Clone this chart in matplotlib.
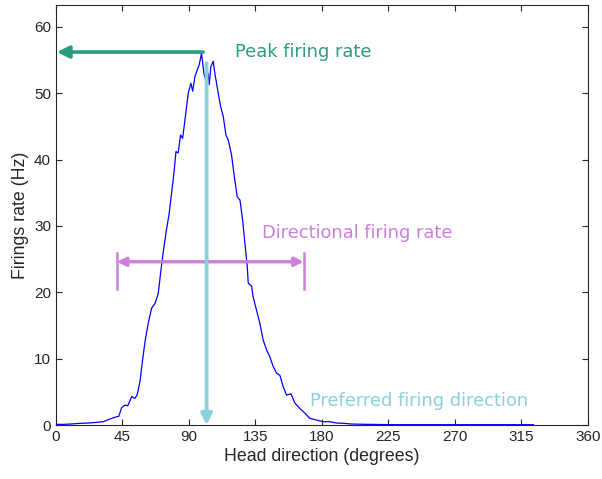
import matplotlib
matplotlib.use("Agg")
import matplotlib.pyplot as plt

# head direction tuning curve
direction = [0, 5, 10, 16, 22, 27.5, 32, 36.5, 39, 41, 42.5, 44.4, 46.7, 48.5, 50, 51.2,
             53.4, 55, 56.8, 58.6, 60.2, 62.4, 64.7, 67, 69.2, 70.8, 72.4, 74.4, 76.6,
             78.2, 79.8, 81.2, 82.7, 84.3, 85.7, 87.3, 89.5, 91.3, 92.5, 94, 95.6, 96.9,
             98.5, 100.1, 101.9, 103, 103.7, 104.8, 106.4, 107.5, 109.8, 111.4, 113.2,
             115, 116.5, 118.8, 120.4, 122.6, 124.5, 126.3, 127.8, 129.4, 130.1, 132.4,
             133.4, 135.7, 138, 140.2, 142.5, 144.7, 147, 149.3, 151.5, 153.7, 156, 159,
             161.7, 165, 168.4, 171.8, 176.3, 180.8, 185.3, 190, 195, 200, 210, 230,
             260, 290, 323]
rate = [0.1, 0.1, 0.15, 0.25, 0.3, 0.4, 0.5, 0.9, 1.1, 1.25, 1.3, 2.6, 3.0, 2.9, 3.6, 4.3,
        4.0, 4.6, 6.5, 9.8, 12.5, 15.3, 17.6, 18.3, 19.8, 22.9, 25.8, 28.9, 31.9,
        34.9, 37.9, 41.2, 41.0, 43.7, 43.2, 46.0, 50.0, 51.5, 50.3, 52.5, 53.5, 54.3,
        56.0, 53.0, 51.5, 53.0, 51.3, 54.0, 54.8, 53.0, 50.0, 48.0, 46.5,
        43.7, 43.0, 40.7, 37.9, 34.4, 33.9, 30.9, 27.5, 24.0, 21.4, 20.9,
        19.3, 17.3, 15.3, 12.8, 11.3, 10.3, 8.8, 7.8, 7.5, 5.8, 4.5, 4.7,
        3.3, 2.5, 1.8, 1.0, 0.75, 0.5, 0.5, 0.3, 0.25, 0.15, 0.1, 0.05,
        0.05, 0.05, 0.05]
xticks = [0, 45, 90, 135, 180, 225, 270, 315, 360]
yticks = [0, 10, 20, 30, 40, 50, 60]

peak_rate = 56.2
peak_dir = 99.5
preferred_dir = 101.9
preferred_top = 54.5
width_lo, width_hi, width_y = 41.2, 167.6, 24.6

green = "#2a9d80"
cyan = "#8ecfdd"
purple = "#cc80dc"

plt.rcParams["font.family"] = ["Liberation Sans", "DejaVu Sans"]

fig = plt.figure(figsize=(6.02, 4.79), dpi=100)
ax = fig.add_axes([0.093, 0.1127, 0.8837, 0.877])

ax.plot(direction, rate, color="#0000ff", lw=0.9)

# peak firing rate
ax.annotate("", xy=(0.6, peak_rate), xytext=(peak_dir, peak_rate),
            arrowprops=dict(arrowstyle="-|>", color=green, lw=2.6,
                            mutation_scale=18, shrinkA=0, shrinkB=0))
ax.text(121, peak_rate, "Peak firing rate", color=green, fontsize=12.9,
        family="DejaVu Sans", va="center")

# directional firing range
ax.annotate("", xy=(width_lo, width_y), xytext=(width_hi, width_y),
            arrowprops=dict(arrowstyle="<|-|>", color=purple, lw=2.4,
                            mutation_scale=13, shrinkA=0, shrinkB=0))
ax.plot([width_lo, width_lo], [20.5, 25.9], color=purple, lw=1.8)
ax.plot([width_hi, width_hi], [20.5, 25.9], color=purple, lw=1.8)
ax.text(139.3, 28.9, "Directional firing rate", color=purple, fontsize=12.9,
        family="DejaVu Sans", va="center")

# preferred direction
ax.annotate("", xy=(preferred_dir, 0), xytext=(preferred_dir, preferred_top),
            arrowprops=dict(arrowstyle="-|>", color=cyan, lw=2.8,
                            mutation_scale=16, shrinkA=0, shrinkB=0))
ax.text(172.2, 3.65, "Preferred firing direction", color=cyan, fontsize=12.9,
        family="DejaVu Sans", va="center")

ax.set_xlim(0, 360)
ax.set_ylim(0, 63.3)
ax.set_xticks(xticks)
ax.set_yticks(yticks)
ax.tick_params(direction="in", top=True, right=True, labelsize=11,
               colors="#262626", length=4)
for s in ax.spines.values():
    s.set_color("#262626")
    s.set_linewidth(0.8)
ax.set_xlabel("Head direction (degrees)", fontsize=12.8, color="#262626", labelpad=3)
ax.set_ylabel("Firings rate (Hz)", fontsize=12.8, color="#262626", labelpad=4)

fig.savefig("out.png", dpi=100)
